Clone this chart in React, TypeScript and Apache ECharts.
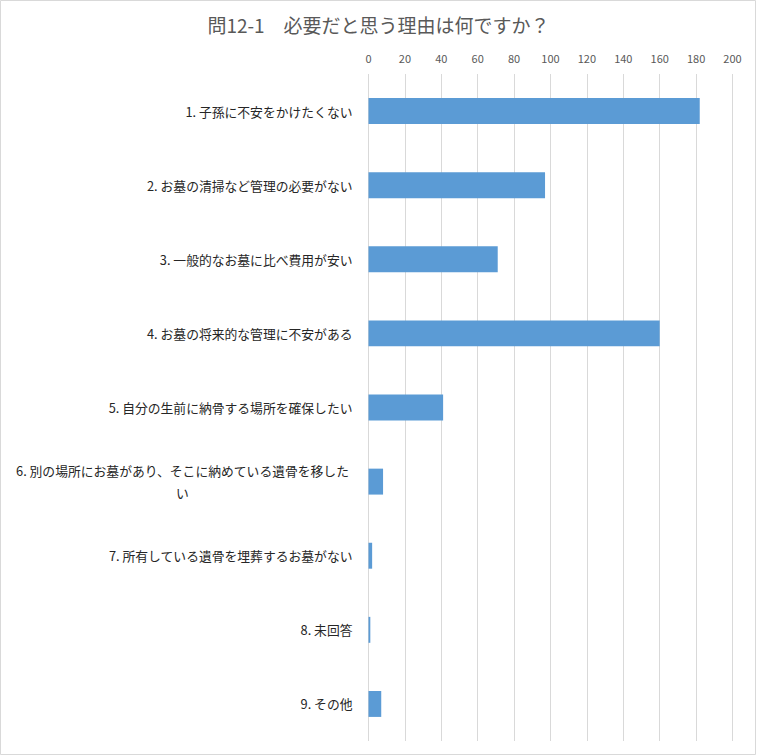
import React, { useEffect, useRef } from "react";
import * as echarts from "echarts";

// 設問カテゴリ（上から順）
const categories: string[] = [
  "1. 子孫に不安をかけたくない",
  "2. お墓の清掃など管理の必要がない",
  "3. 一般的なお墓に比べ費用が安い",
  "4. お墓の将来的な管理に不安がある",
  "5. 自分の生前に納骨する場所を確保したい",
  "6. 別の場所にお墓があり、そこに納めている遺骨を移した\nい",
  "7. 所有している遺骨を埋葬するお墓がない",
  "8. 未回答",
  "9. その他",
];

const counts: number[] = [182, 97, 71, 160, 41, 8, 2, 1, 7];

const title = "問12-1　必要だと思う理由は何ですか？";

const App: React.FC = () => {
  const chartRef = useRef<HTMLDivElement>(null);

  useEffect(() => {
    document.body.style.margin = "0";
    const chart = echarts.init(chartRef.current!, undefined, { renderer: "svg" });

    const option: any = {
      animation: false,
      textStyle: { fontFamily: "'Noto Sans CJK JP', 'Noto Sans', sans-serif" },
      title: {
        text: title,
        left: "center",
        top: 10,
        textStyle: { color: "#595959", fontSize: 19, fontWeight: "normal" },
      },
      graphic: [
        {
          type: "rect",
          shape: { x: 0.5, y: 0.5, width: 755, height: 754 },
          style: { fill: "none", stroke: "#d9d9d9", lineWidth: 1 },
          silent: true,
        },
      ],
      grid: { left: 368.5, right: 24.5, top: 74, bottom: 15 },
      xAxis: {
        type: "value",
        position: "top",
        min: 0,
        max: 200,
        interval: 20,
        axisLine: { show: false },
        axisTick: { show: false },
        axisLabel: { color: "#595959", fontSize: 11, margin: 11 },
        splitLine: { lineStyle: { color: "#d9d9d9", width: 1 } },
      },
      yAxis: {
        type: "category",
        data: categories,
        inverse: true,
        axisLine: { show: false },
        axisTick: { show: false },
        axisLabel: {
          color: "#262626",
          fontSize: 12.8,
          margin: 16,
          formatter: (v: string) =>
            v.includes("\n")
              ? v
                  .split("\n")
                  .map((l) => `{c|${l}}`)
                  .join("\n")
              : v,
          rich: {
            c: { width: 340, align: "center", fontSize: 12.8, color: "#262626", lineHeight: 22 },
          },
        },
      },
      series: [
        {
          type: "bar",
          data: counts,
          barWidth: "35%",
          itemStyle: { color: "#5b9bd5" },
        },
      ],
    };

    chart.setOption(option);
    return () => {
      chart.dispose();
    };
  }, []);

  return <div ref={chartRef} style={{ width: "757px", height: "756px" }}></div>;
};

export default App;
